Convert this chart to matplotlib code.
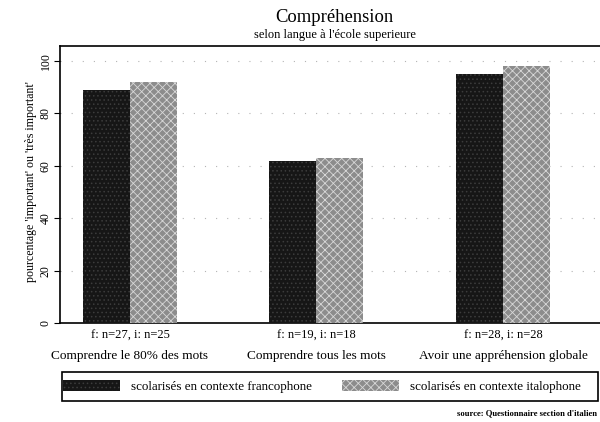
#!/usr/bin/env python3
# -*- coding: utf-8 -*-
"""
Compréhension - selon langue à l'école superieure
"""
#%%
import numpy
import matplotlib
matplotlib.use('Agg')
import matplotlib.pyplot as plt
from matplotlib.patches import Rectangle

#%% Data
categories = ['Comprendre le 80% des mots', 'Comprendre tous les mots', 'Avoir une appréhension globale']
n_labels = ['f: n=27, i: n=25', 'f: n=19, i: n=18', 'f: n=28, i: n=28']
francophone = [89, 62, 95]
italophone = [92, 63, 98]
series_names = ['scolarisés en contexte francophone', 'scolarisés en contexte italophone']
y_ticks = [0, 20, 40, 60, 80, 100]

#%% Style
plt.rcParams['font.family'] = ['Liberation Serif', 'DejaVu Serif']
plt.rcParams['hatch.linewidth'] = 0.6

fig = plt.figure(figsize=(6.0, 4.22), dpi=100)
ax = fig.add_axes([0.10, 0.2346, 0.90, 0.656])

x = numpy.arange(len(categories))
width = 0.252

b1 = ax.bar(x - width/2, francophone, width, color='#161616', hatch='....',
            edgecolor='#3c3c3c', linewidth=0, zorder=3, label=series_names[0])
b2 = ax.bar(x + width/2, italophone, width, color='#8c8c8c', hatch='xxxx',
            edgecolor='#d8d8d8', linewidth=0, zorder=3, label=series_names[1])

ax.set_xlim(-0.375, 2.52)
ax.set_ylim(0, 105.7)
ax.set_yticks(y_ticks)
ax.set_yticklabels([str(v) for v in y_ticks], rotation=90, va='center', fontsize=8.5)
ax.tick_params(axis='y', direction='out', length=4, width=0.8, pad=2)
ax.set_xticks([])
ax.yaxis.grid(True, color='#b4b4b4', linestyle=(0, (1, 9)), linewidth=0.8, zorder=0)

for s in ['left', 'top', 'bottom']:
    ax.spines[s].set_linewidth(1.2)
ax.spines['right'].set_visible(False)

ax.set_ylabel("pourcentage 'important' ou 'très important'", fontsize=8.6)
ax.yaxis.set_label_coords(-0.043, 0.51)

# group labels below axis
for i in range(len(categories)):
    ax.text(x[i], -0.047, n_labels[i], transform=ax.get_xaxis_transform(),
            ha='center', va='center', fontsize=9)
    ax.text(x[i], -0.118, categories[i], transform=ax.get_xaxis_transform(),
            ha='center', va='center', fontsize=9.5)

fig.text(0.558, 0.958, 'Compréhension', ha='center', va='center', fontsize=13.4)
fig.text(0.558, 0.918, "selon langue à l'école superieure", ha='center', va='center', fontsize=9)

# legend box
fig.patches.append(Rectangle((0.103, 0.05), 0.893, 0.069, transform=fig.transFigure,
                             facecolor='white', edgecolor='black', linewidth=1.2))
leg = fig.legend(handles=[b1, b2], loc='center left',
                 bbox_to_anchor=(0.105, 0.0845), ncol=2, frameon=False,
                 borderaxespad=0, handlelength=4.4, handleheight=1.0,
                 handletextpad=0.8, columnspacing=2.3, fontsize=9.4, borderpad=0)

fig.text(0.762, 0.021, "source: Questionnaire section d'italien", ha='left', va='center',
         fontsize=6.2, fontweight='bold')

fig.savefig('out.png', dpi=100)
#%%
